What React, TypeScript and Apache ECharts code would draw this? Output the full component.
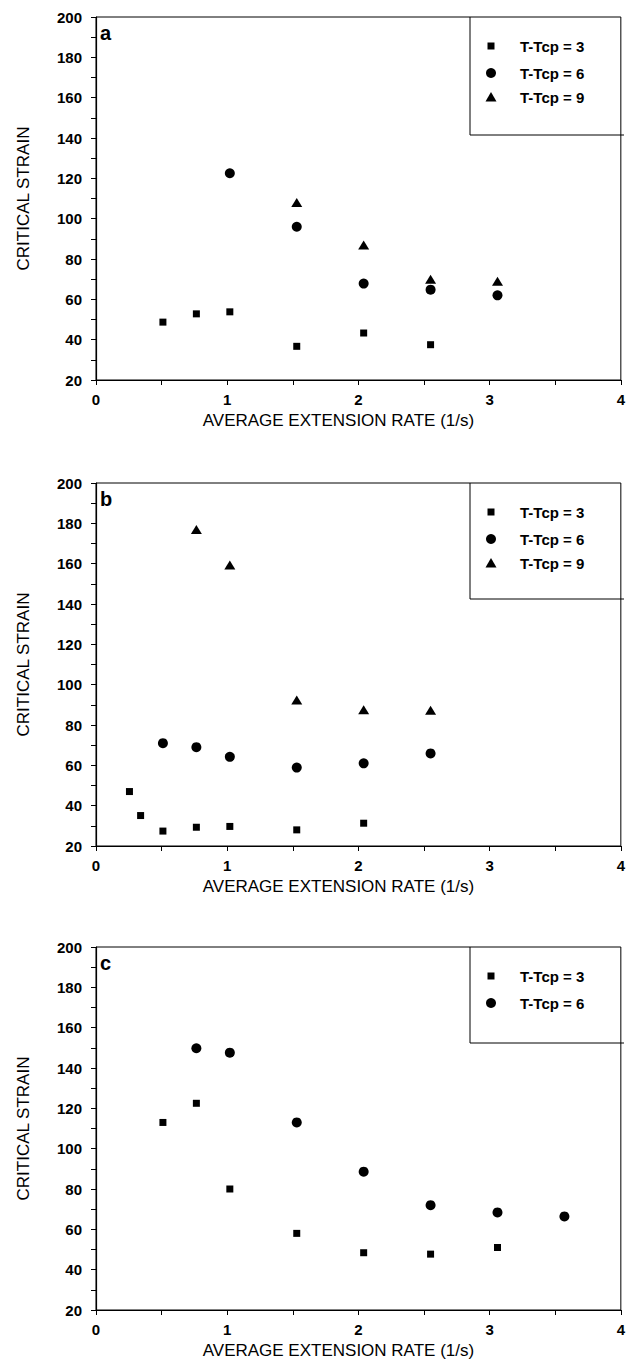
import React, { useEffect, useRef } from "react";
import * as echarts from "echarts";

// ---- data ----
const panelLetters = ["a", "b", "c"];
const legendNames = ["T-Tcp = 3", "T-Tcp = 6", "T-Tcp = 9"];
const xTicks = [0, 1, 2, 3, 4];
const yTicks = [20, 40, 60, 80, 100, 120, 140, 160, 180, 200];

const xA3 = [0.51, 0.765, 1.02, 1.53, 2.04, 2.55];
const yA3 = [48.7, 52.8, 53.8, 36.7, 43.3, 37.5];
const xA6 = [1.02, 1.53, 2.04, 2.55, 3.06];
const yA6 = [122.5, 96, 67.8, 64.8, 62];
const xA9 = [1.53, 2.04, 2.55, 3.06];
const yA9 = [108, 87, 70, 69];

const xB3 = [0.255, 0.34, 0.51, 0.765, 1.02, 1.53, 2.04];
const yB3 = [47, 35.1, 27.4, 29.3, 29.7, 28, 31.3];
const xB6 = [0.51, 0.765, 1.02, 1.53, 2.04, 2.55];
const yB6 = [71, 69, 64.2, 58.9, 61, 65.9];
const xB9 = [0.765, 1.02, 1.53, 2.04, 2.55];
const yB9 = [176.9, 159.3, 92.4, 87.6, 87.3];

const xC3 = [0.51, 0.765, 1.02, 1.53, 2.04, 2.55, 3.06];
const yC3 = [113, 122.5, 80, 58, 48.4, 47.7, 51];
const xC6 = [0.765, 1.02, 1.53, 2.04, 2.55, 3.06, 3.57];
const yC6 = [149.8, 147.6, 113, 88.6, 72, 68.4, 66.4];

const panelSeries = [
  [
    [xA3, yA3],
    [xA6, yA6],
    [xA9, yA9],
  ],
  [
    [xB3, yB3],
    [xB6, yB6],
    [xB9, yB9],
  ],
  [
    [xC3, yC3],
    [xC6, yC6],
  ],
];

// ---- layout / style ----
const FONT = "'Liberation Sans', Arial, Helvetica, sans-serif";
const GRID_LEFT = 96;
const GRID_RIGHT_X = 624;
const GRID_H = 363;
const panelTops = [17, 483, 947];
const legendBottoms = [118, 116, 96];
const legendItemOffsets = [29, 56, 80];
const LEG_LEFT = 470;

const symbols = ["rect", "circle", "triangle"];
const symbolSizes: any[] = [7, 10, [11, 9]];

function zip(xs: number[], ys: number[]) {
  return xs.map((x, i) => [x, ys[i]]);
}

function legendGraphics(p: number, n: number) {
  const T = panelTops[p];
  const B = T + legendBottoms[p];
  const els: any[] = [
    {
      type: "polyline",
      shape: {
        points: [
          [LEG_LEFT, T],
          [LEG_LEFT, B],
          [GRID_RIGHT_X, B],
        ],
      },
      style: { stroke: "#000", lineWidth: 1, fill: null },
    },
  ];
  for (let i = 0; i < n; i++) {
    const cy = T + legendItemOffsets[i];
    const cx = 491;
    if (i === 0) {
      els.push({ type: "rect", shape: { x: cx - 3.5, y: cy - 3.5, width: 7, height: 7 }, style: { fill: "#000" } });
    } else if (i === 1) {
      els.push({ type: "circle", shape: { cx, cy, r: 5 }, style: { fill: "#000" } });
    } else {
      els.push({
        type: "polygon",
        shape: { points: [[cx, cy - 5], [cx + 5.5, cy + 4.5], [cx - 5.5, cy + 4.5]] },
        style: { fill: "#000" },
      });
    }
    els.push({
      type: "text",
      x: 520,
      y: cy,
      style: {
        text: legendNames[i],
        fill: "#000",
        font: `bold 15px ${FONT}`,
        textVerticalAlign: "middle",
        textAlign: "left",
      },
    });
  }
  els.push({
    type: "text",
    x: 100,
    y: T + 16,
    style: {
      text: panelLetters[p],
      fill: "#000",
      font: `bold 20px ${FONT}`,
      textVerticalAlign: "middle",
      textAlign: "left",
    },
  });
  return els;
}

function buildOption() {
  const grid: any[] = [];
  const xAxis: any[] = [];
  const yAxis: any[] = [];
  const series: any[] = [];
  let graphic: any[] = [];

  panelTops.forEach((T, p) => {
    grid.push({
      left: GRID_LEFT,
      top: T,
      width: GRID_RIGHT_X - GRID_LEFT,
      height: GRID_H,
      show: true,
      borderColor: "#000",
      borderWidth: 1,
      backgroundColor: "transparent",
    });
    xAxis.push({
      type: "value",
      gridIndex: p,
      min: xTicks[0],
      max: xTicks[xTicks.length - 1],
      interval: 1,
      name: "AVERAGE EXTENSION RATE (1/s)",
      nameLocation: "middle",
      nameGap: 32,
      nameTextStyle: { color: "#000", fontSize: 17, fontFamily: FONT, padding: [0, 40, 0, 0] },
      axisLine: { show: true, lineStyle: { color: "#000", width: 1.2 } },
      axisTick: { show: true, inside: false, length: 5, lineStyle: { color: "#000" } },
      minorTick: { show: true, splitNumber: 2, length: 5, lineStyle: { color: "#000" } },
      splitLine: { show: false },
      axisLabel: { color: "#000", fontSize: 15, fontWeight: "bold", fontFamily: FONT, margin: 12 },
    });
    yAxis.push({
      type: "value",
      gridIndex: p,
      min: yTicks[0],
      max: yTicks[yTicks.length - 1],
      interval: 20,
      name: "CRITICAL STRAIN",
      nameLocation: "middle",
      nameGap: 64,
      nameTextStyle: { color: "#000", fontSize: 17, fontFamily: FONT },
      axisLine: { show: true, lineStyle: { color: "#000", width: 1.2 } },
      axisTick: { show: true, inside: false, length: 5, lineStyle: { color: "#000" } },
      minorTick: { show: true, splitNumber: 2, length: 5, lineStyle: { color: "#000" } },
      splitLine: { show: false },
      axisLabel: { color: "#000", fontSize: 15, fontWeight: "bold", fontFamily: FONT, margin: 14 },
    });
    panelSeries[p].forEach(([xs, ys], i) => {
      series.push({
        type: "scatter",
        name: legendNames[i],
        xAxisIndex: p,
        yAxisIndex: p,
        symbol: symbols[i],
        symbolSize: symbolSizes[i],
        itemStyle: { color: "#000", opacity: 1 },
        data: zip(xs, ys),
      });
    });
    graphic = graphic.concat(legendGraphics(p, panelSeries[p].length));
  });

  return {
    animation: false,
    backgroundColor: "#fff",
    grid,
    xAxis,
    yAxis,
    series,
    graphic,
  };
}

export default function App() {
  const ref = useRef<HTMLDivElement>(null);
  useEffect(() => {
    document.body.style.margin = "0";
    const chart = echarts.init(ref.current!, null, { renderer: "svg" });
    chart.setOption(buildOption() as any);
    return () => chart.dispose();
  }, []);
  return <div ref={ref} style={{ width: 628, height: 1362 }} />;
}
